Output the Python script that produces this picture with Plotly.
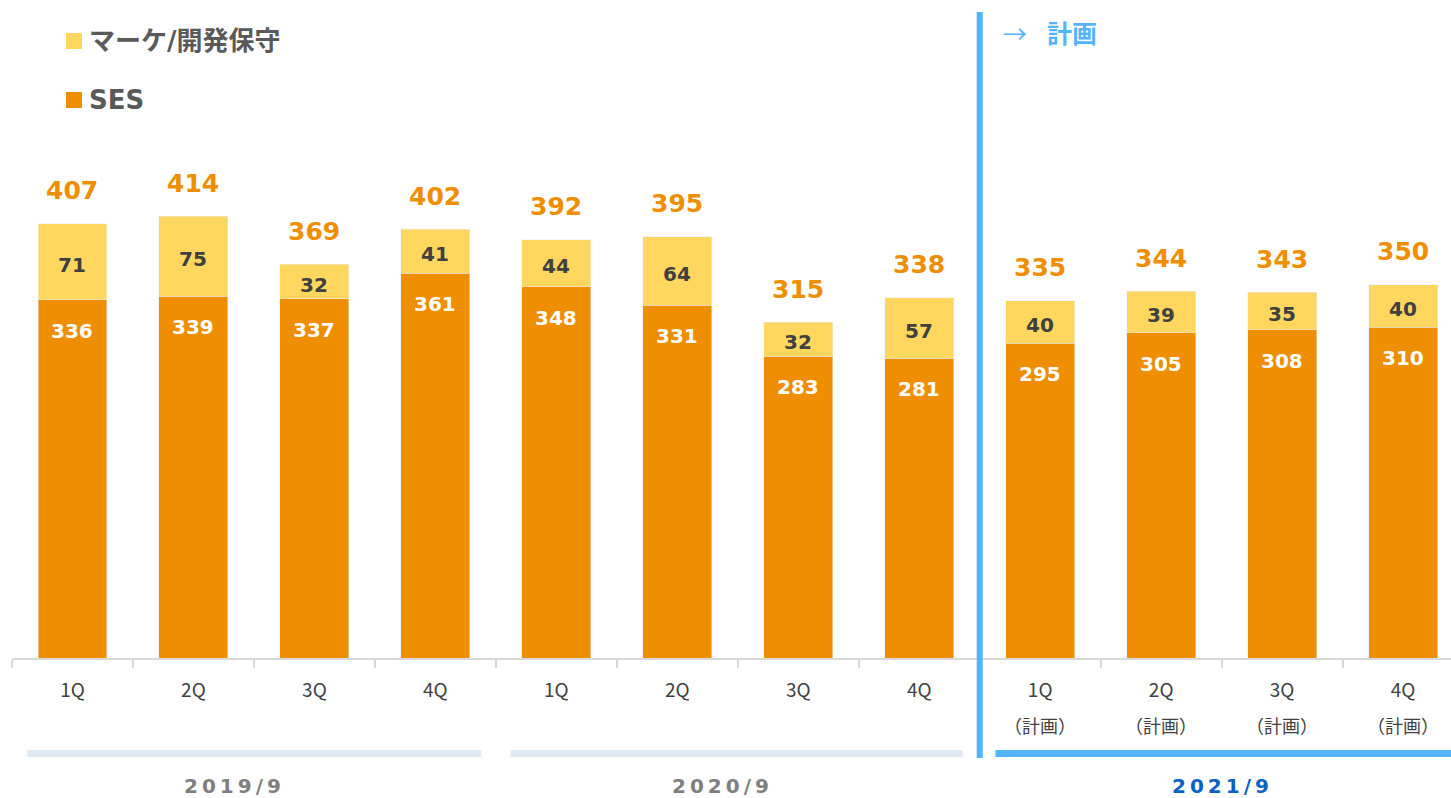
import plotly.graph_objects as go

# ---- data ----
categories = ["2019-1Q", "2019-2Q", "2019-3Q", "2019-4Q",
              "2020-1Q", "2020-2Q", "2020-3Q", "2020-4Q",
              "2021-1Q", "2021-2Q", "2021-3Q", "2021-4Q"]
tick_labels = ["1Q", "2Q", "3Q", "4Q", "1Q", "2Q", "3Q", "4Q",
               "1Q", "2Q", "3Q", "4Q"]
plan_flags = [False] * 8 + [True] * 4
plan_text = "（計画）"
ses = [336, 339, 337, 361, 348, 331, 283, 281, 295, 305, 308, 310]
marke = [71, 75, 32, 41, 44, 64, 32, 57, 40, 39, 35, 40]
totals = [407, 414, 369, 402, 392, 395, 315, 338, 335, 344, 343, 350]
year_labels = ["2019/9", "2020/9", "2021/9"]
series_names = ["マーケ/開発保守", "SES"]

ORANGE = "#EE8E00"
YELLOW = "#FFD75F"
BLUE = "#52B4FC"
NUM_FONT = "DejaVu Sans, Verdana, sans-serif"
JP_FONT = "Noto Sans CJK JP, DejaVu Sans, sans-serif"
MIX_FONT = "DejaVu Sans, Noto Sans CJK JP, sans-serif"

fig = go.Figure()
fig.add_trace(go.Bar(x=categories, y=ses, marker_color=ORANGE, width=0.57,
                     name=series_names[1], showlegend=False))
fig.add_trace(go.Bar(x=categories, y=marke, marker_color=YELLOW, width=0.57,
                     name=series_names[0], showlegend=False))

ann = []
for i, c in enumerate(categories):
    ann.append(dict(x=c, y=totals[i], xref="x", yref="y", text=f"<b>{totals[i]}</b>",
                    showarrow=False, yshift=33, yanchor="middle",
                    font=dict(family=NUM_FONT, size=25, color=ORANGE)))
    ann.append(dict(x=c, y=ses[i], xref="x", yref="y", text=f"<b>{ses[i]}</b>",
                    showarrow=False, yshift=-31, yanchor="middle",
                    font=dict(family=NUM_FONT, size=20, color="white")))
    ann.append(dict(x=c, y=ses[i] + marke[i] / 2, xref="x", yref="y",
                    text=f"<b>{marke[i]}</b>", showarrow=False, yshift=-3,
                    yanchor="middle",
                    font=dict(family=NUM_FONT, size=20, color="#404040")))

H = 658.0  # plot-area height in px
W = 1439.0  # plot-area width in px (starts at 12)


def py(p):
    return (H - p) / H


def px(p):
    return (p - 12) / W


# plan sub-labels under ticks
for i, c in enumerate(categories):
    if plan_flags[i]:
        ann.append(dict(x=c, y=py(725), xref="x", yref="paper",
                        xanchor="center", yanchor="middle", showarrow=False,
                        text=plan_text,
                        font=dict(family=JP_FONT, size=18, color="#404040")))

# legend
shapes = []
legend_rows = [(series_names[0], YELLOW, 41), (series_names[1], ORANGE, 100)]
for name, col, yc in legend_rows:
    shapes.append(dict(type="rect", xref="paper", yref="paper",
                       x0=px(66), x1=px(82), y0=py(yc + 8), y1=py(yc - 8),
                       fillcolor=col, line=dict(width=0)))
    ann.append(dict(x=px(87), y=py(yc), xref="paper", yref="paper",
                    xanchor="left", yanchor="middle", showarrow=False,
                    text=f"<b>{name}</b>",
                    font=dict(family=MIX_FONT, size=26, color="#595959")))

# plan marker
ann.append(dict(x=px(1001), y=py(32), xref="paper", yref="paper", xanchor="left",
                yanchor="middle", showarrow=False, text="→",
                font=dict(family=JP_FONT, size=24, color=BLUE)))
ann.append(dict(x=px(1045), y=py(32), xref="paper", yref="paper", xanchor="left",
                yanchor="middle", showarrow=False, text="<b>計画</b>",
                font=dict(family=JP_FONT, size=25, color=BLUE)))
shapes.append(dict(type="line", xref="x", yref="paper", x0=7.5, x1=7.5,
                   y0=py(758), y1=py(12), line=dict(color=BLUE, width=6)))

# year bars
year_spans = [(-0.373, 3.38, "#DEE9F4", 232, "#7F7F7F"),
              (3.62, 7.36, "#DEE9F4", 720, "#7F7F7F"),
              (7.63, 11.5, BLUE, 1220, "#0B62C4")]
for (a, b, col, xc, tcol), lab in zip(year_spans, year_labels):
    shapes.append(dict(type="rect", xref="x", yref="paper", x0=a, x1=b,
                       y0=py(757), y1=py(750), fillcolor=col, line=dict(width=0)))
    ann.append(dict(x=px(xc), y=py(786), xref="paper", yref="paper",
                    xanchor="center", yanchor="middle", showarrow=False,
                    text="<b>" + "\u2009".join(lab) + "</b>",
                    font=dict(family=NUM_FONT, size=20, color=tcol)))

fig.update_layout(
    barmode="stack",
    width=1451, height=798,
    margin=dict(l=12, r=0, t=0, b=140),
    plot_bgcolor="white", paper_bgcolor="white",
    showlegend=False,
    annotations=ann, shapes=shapes,
    xaxis=dict(type="category", range=[-0.5, 11.396], tickmode="array",
               tickvals=categories, ticktext=tick_labels,
               tickson="boundaries", ticks="outside",
               ticklen=8, tickcolor="#D9D9D9", tickwidth=2,
               showline=True, linecolor="#D9D9D9", linewidth=2,
               showgrid=False, zeroline=False, ticklabelstandoff=14,
               tickfont=dict(family=JP_FONT, size=19, color="#404040")),
    yaxis=dict(range=[0, 617], visible=False, showgrid=False, zeroline=False),
)

fig.write_html("out.html", config={"displayModeBar": False},
               post_script="document.body.style.margin='0px';")
